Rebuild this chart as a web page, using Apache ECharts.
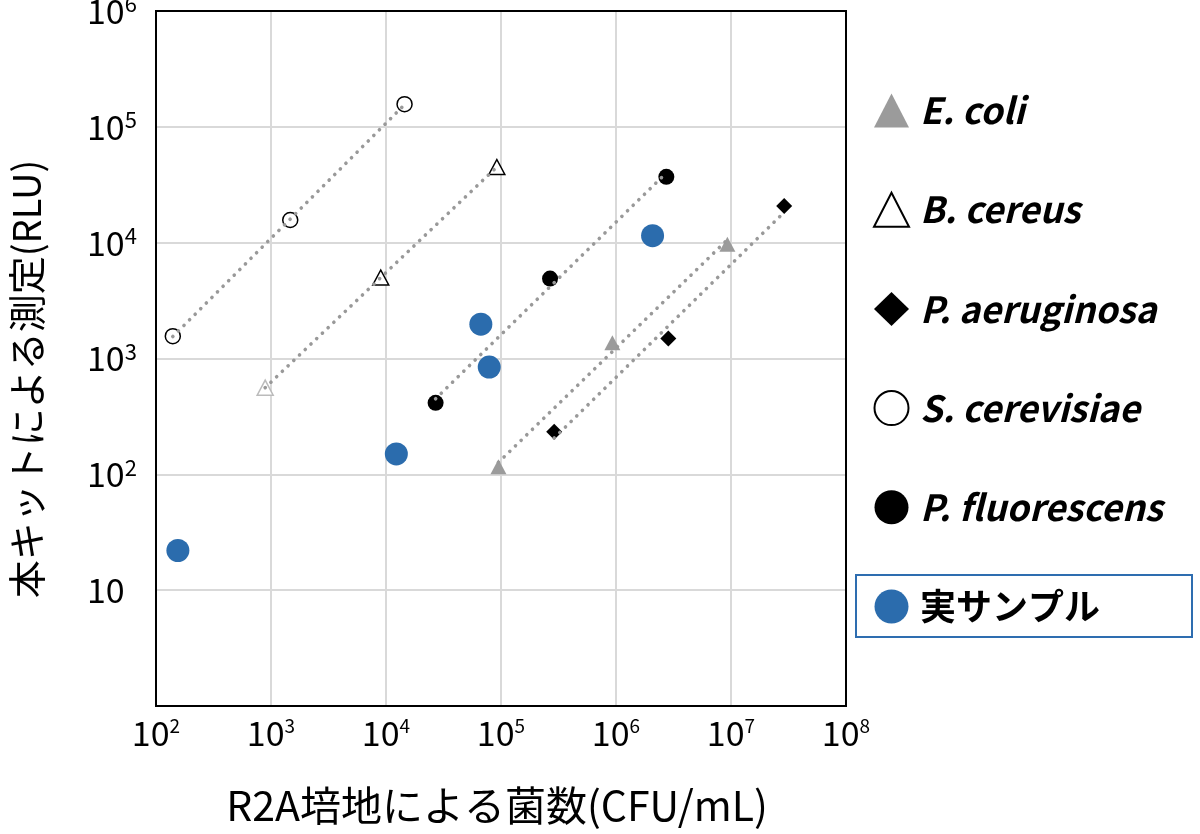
<!DOCTYPE html>
<html><head><meta charset="utf-8">
<script src="https://cdn.jsdelivr.net/npm/echarts@6/dist/echarts.min.js"></script>
<style>html,body{margin:0;padding:0;background:#fff}#c{width:1200px;height:834px}</style>
</head><body><div id="c"></div>
<script>
// ---- data ----
const seriesNames = ['E. coli', 'B. cereus', 'P. aeruginosa', 'S. cerevisiae', 'P. fluorescens', '実サンプル'];
const ecoliX = [9.5e4, 9.3e5, 9.3e6];
const ecoliY = [116, 1370, 9700];
const bcereusX = [890, 9000, 92000];
const bcereusY = [560, 5000, 45000];
const paeruX = [2.9e5, 2.85e6, 2.9e7];
const paeruY = [233, 1490, 20700];
const scereX = [140, 1470, 14500];
const scereY = [1560, 15700, 157000];
const pfluoX = [2.7e4, 2.67e5, 2.74e6];
const pfluoY = [414, 4900, 37000];
const sampleX = [155, 12300, 66800, 79000, 2.08e6];
const sampleY = [22, 150, 1980, 843, 11500];
const xTickExponents = [2, 3, 4, 5, 6, 7, 8];
const yTickExponents = [0, 1, 2, 3, 4, 5, 6];
const xTitle = 'R2A培地による菌数(CFU/mL)';
const yTitle = '本キットによる測定(RLU)';

const FONT = '"Noto Sans CJK JP", "Noto Sans", sans-serif';
const pairs = (xs, ys) => xs.map((x, i) => [x, ys[i]]);

function trend(xs, ys) {
  const lx = xs.map(Math.log10), ly = ys.map(Math.log10);
  const n = lx.length;
  const mx = lx.reduce((a, b) => a + b, 0) / n, my = ly.reduce((a, b) => a + b, 0) / n;
  let sxy = 0, sxx = 0;
  for (let i = 0; i < n; i++) { sxy += (lx[i] - mx) * (ly[i] - my); sxx += (lx[i] - mx) ** 2; }
  const b = sxy / sxx, a = my - b * mx;
  const x0 = Math.min(...lx), x1 = Math.max(...lx);
  return [[10 ** x0, 10 ** (a + b * x0)], [10 ** x1, 10 ** (a + b * x1)]];
}

function labelFmt(exps, isY) {
  return function (v) {
    const e = Math.round(Math.log10(v));
    if (exps.indexOf(e) < 0) return '';
    if (e === 0) return '';
    if (e === 1) return '{b|10}';
    return '{b|10}{' + (isY ? 'sy' : 'sx') + '|' + e + '}';
  };
}

const richStyle = {
  b: { fontSize: 34, fontFamily: FONT, color: '#000' },
  sy: { fontSize: 22, fontFamily: FONT, color: '#000', padding: [0, 0, 14, 0] },
  sx: { fontSize: 19, fontFamily: FONT, color: '#000', padding: [0, 0, 14, 0] }
};

const trendStyle = { color: '#999', width: 3.6, type: [0.1, 7.8], cap: 'round' };

function trendSeries(xs, ys) {
  return {
    type: 'line', data: trend(xs, ys), symbol: 'none', silent: true, z: 5,
    lineStyle: trendStyle, legendHoverLink: false
  };
}

const chart = echarts.init(document.getElementById('c'), null, { renderer: 'canvas' });
const legendText = { fontSize: 36, fontWeight: 'bold', fontStyle: 'italic', fontFamily: FONT, color: '#000', padding: [0, 0, 0, 6], lineHeight: 36 };

chart.setOption({
  animation: false,
  backgroundColor: '#fff',
  grid: { left: 156, right: 354, top: 11, bottom: 128, outerBoundsMode: 'none', containLabel: false, show: false },
  xAxis: {
    type: 'log', logBase: 10, min: 100, max: 1e8, interval: 1,
    axisLine: { show: true, lineStyle: { color: '#000', width: 2 } },
    axisTick: { show: false },
    splitLine: { show: true, showMaxLine: false, showMinLine: false, lineStyle: { color: '#d9d9d9', width: 2 } },
    axisLabel: { formatter: labelFmt(xTickExponents, false), rich: richStyle, margin: 10, showMinLabel: true, showMaxLabel: true }
  },
  yAxis: {
    type: 'log', logBase: 10, min: 1, max: 1e6, interval: 1,
    axisLine: { show: true, lineStyle: { color: '#000', width: 2 } },
    axisTick: { show: false },
    splitLine: { show: true, showMaxLine: false, showMinLine: false, lineStyle: { color: '#d9d9d9', width: 2 } },
    axisLabel: { formatter: labelFmt(yTickExponents, true), rich: richStyle, margin: 69, align: 'left', showMinLabel: true, showMaxLabel: true }
  },
  legend: {
    orient: 'vertical', left: 873, top: 92.5, padding: 0, itemWidth: 35, itemHeight: 34, itemGap: 63.2,
    selectedMode: false,
    data: [
      { name: seriesNames[0], textStyle: legendText },
      { name: seriesNames[1], textStyle: legendText },
      { name: seriesNames[2], textStyle: legendText },
      { name: seriesNames[3], textStyle: legendText },
      { name: seriesNames[4], textStyle: legendText },
      { name: seriesNames[5], textStyle: Object.assign({}, legendText, { fontStyle: 'normal' }) }
    ]
  },
  graphic: [
    { type: 'rect', shape: { x: 156, y: 11, width: 690, height: 695 }, style: { fill: 'none', stroke: '#000', lineWidth: 2 }, z: 10 },
    { type: 'text', x: 497, y: 805, style: { text: xTitle, font: '41px ' + FONT, fill: '#000', textAlign: 'center', textVerticalAlign: 'middle' } },
    { type: 'text', x: 27, y: 379, rotation: Math.PI / 2, style: { text: yTitle, font: '38px ' + FONT, fill: '#000', textAlign: 'center', textVerticalAlign: 'middle' } },
    { type: 'rect', shape: { x: 856, y: 575, width: 336, height: 62 }, style: { fill: 'none', stroke: '#2e6db0', lineWidth: 2 } }
  ],
  series: [
    { name: seriesNames[0], type: 'scatter', symbol: 'triangle', symbolSize: [16, 15], data: pairs(ecoliX, ecoliY), itemStyle: { color: '#9b9b9b', opacity: 1 }, z: 3 },
    { name: seriesNames[1], type: 'scatter', symbol: 'triangle', symbolSize: [16, 15],
      data: pairs(bcereusX, bcereusY).map((p, i) => i === 0 ? { value: p, itemStyle: { borderColor: '#bbb' } } : p),
      itemStyle: { color: '#fff', borderColor: '#000', borderWidth: 1.5, opacity: 1 }, z: 3 },
    { name: seriesNames[2], type: 'scatter', symbol: 'diamond', symbolSize: 16, data: pairs(paeruX, paeruY), itemStyle: { color: '#000', opacity: 1 }, z: 3 },
    { name: seriesNames[3], type: 'scatter', symbol: 'circle', symbolSize: 15, data: pairs(scereX, scereY), itemStyle: { color: '#fff', borderColor: '#000', borderWidth: 1.5, opacity: 1 }, z: 3 },
    { name: seriesNames[4], type: 'scatter', symbol: 'circle', symbolSize: 16, data: pairs(pfluoX, pfluoY), itemStyle: { color: '#000', opacity: 1 }, z: 3 },
    { name: seriesNames[5], type: 'scatter', symbol: 'circle', symbolSize: 23, data: pairs(sampleX, sampleY), itemStyle: { color: '#2b6cad', opacity: 1 }, z: 3 },
    trendSeries(ecoliX, ecoliY),
    trendSeries(bcereusX, bcereusY),
    trendSeries(paeruX, paeruY),
    trendSeries(scereX, scereY),
    trendSeries(pfluoX, pfluoY)
  ]
});
</script>
</body></html>
